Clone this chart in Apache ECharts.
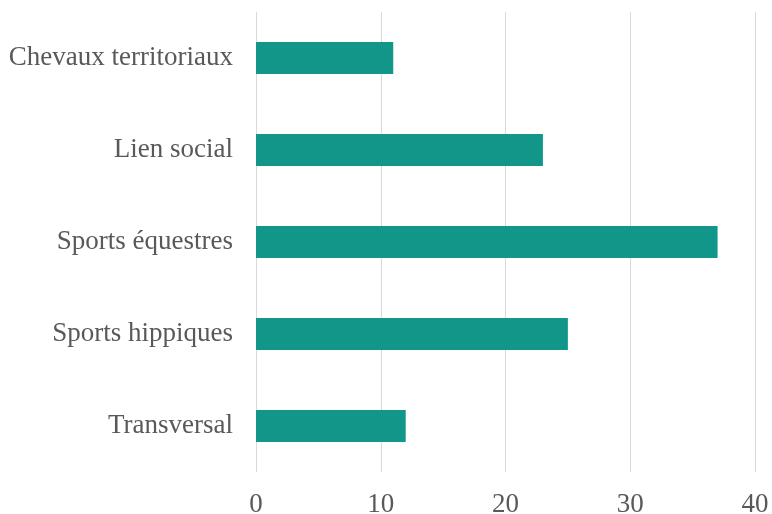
<!DOCTYPE html>
<html><head><meta charset="utf-8">
<script src="https://cdn.jsdelivr.net/npm/echarts@6/dist/echarts.min.js"></script>
<style>html,body{margin:0;padding:0;background:#fff}#c{width:772px;height:514px}</style>
</head><body><div id="c"></div>
<script>
const categories = ["Chevaux territoriaux", "Lien social", "Sports équestres", "Sports hippiques", "Transversal"];
const values = [11, 23, 37, 25, 12];
const xTicks = [0, 10, 20, 30, 40];

const chart = echarts.init(document.getElementById('c'));
chart.setOption({
  animation: false,
  grid: {left: 256, right: 17, top: 12, bottom: 42, containLabel: false, outerBoundsMode: 'none'},
  xAxis: {
    type: 'value', min: xTicks[0], max: xTicks[xTicks.length - 1], interval: 10,
    axisLine: {show: false}, axisTick: {show: false},
    splitLine: {lineStyle: {color: '#d9d9d9', width: 1}},
    axisLabel: {fontFamily: 'Liberation Serif', fontSize: 27, color: '#595959', margin: 19}
  },
  yAxis: {
    type: 'category', data: categories, inverse: true,
    axisLine: {show: false}, axisTick: {show: false},
    axisLabel: {fontFamily: 'Liberation Serif', fontSize: 27, color: '#595959', margin: 23}
  },
  series: [{
    type: 'bar', data: values, barWidth: 32,
    itemStyle: {color: '#12968a'}
  }]
});
</script></body></html>
